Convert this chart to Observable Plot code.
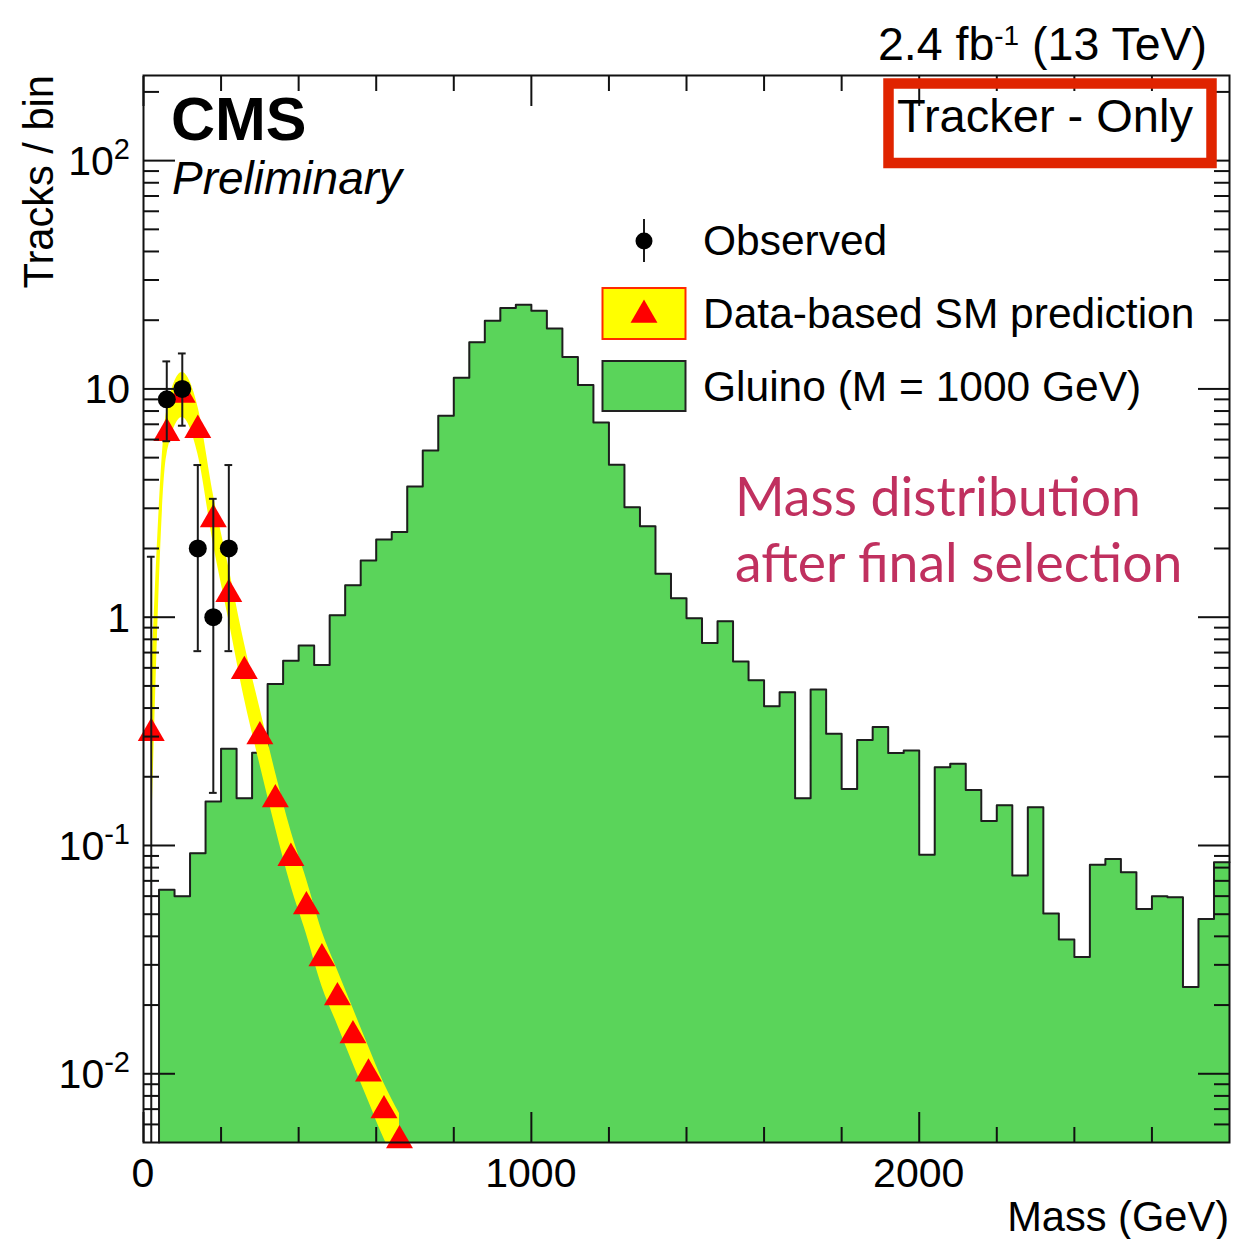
<!DOCTYPE html>
<html><head><meta charset="utf-8">
<script src="https://cdn.jsdelivr.net/npm/d3@7"></script>
<script src="https://cdn.jsdelivr.net/npm/@observablehq/plot@0.6"></script>
<style>html,body{margin:0;padding:0;background:#fff;} svg{display:block;}</style>
</head><body><div id="chart"></div>
<script>
// ---------------- data ----------------
const binWidth = 40; // GeV
// Gluino (M = 1000 GeV) histogram, one value per 40 GeV bin starting at 0 GeV
const gluino = [0, 0.064, 0.060, 0.0925, 0.156, 0.265, 0.161, 0.255, 0.510, 0.644,
  0.751, 0.618, 1.02, 1.38, 1.77, 2.19, 2.36, 3.74, 5.38, 7.62,
  11.2, 16.0, 19.9, 22.6, 23.4, 22.0, 18.4, 13.8, 10.4, 7.12,
  4.65, 3.03, 2.50, 1.55, 1.21, 0.99, 0.77, 0.96, 0.64, 0.53,
  0.407, 0.469, 0.161, 0.482, 0.309, 0.177, 0.290, 0.330, 0.254, 0.261,
  0.091, 0.220, 0.228, 0.175, 0.128, 0.150, 0.0738, 0.147, 0.0504, 0.0387,
  0.0325, 0.0824, 0.0873, 0.0764, 0.0527, 0.060, 0.0593, 0.0240, 0.0477, 0.0844];

// Observed
const obsMass = [20, 60, 100, 140, 180, 220];
const obsCount = [0, 9, 10, 2, 1, 2];
const obsErrLow = [0, 5.9, 6.9, 0.71, 0.17, 0.71];
const obsErrHigh = [1.84, 13.2, 14.3, 4.64, 3.30, 4.64];

// Data-based SM prediction (central value and band)
const predMass = [20, 60, 100, 140, 180, 220, 260, 300, 340, 380, 420, 460, 500, 540, 580, 620, 660];
const predValue = [0.31, 6.4, 9.4, 6.6, 2.68, 1.26, 0.58, 0.30, 0.159, 0.088, 0.054, 0.032, 0.0216, 0.0147, 0.0100, 0.0069, 0.0051];
const predLow = [0.10, 5.1, 7.5, 5.2, 2.1, 0.97, 0.44, 0.227, 0.12, 0.0667, 0.041, 0.0242, 0.0164, 0.0111, 0.0076, 0.0052, 0.0039];
const predHigh = [0.50, 8.0, 11.8, 8.4, 3.45, 1.65, 0.77, 0.40, 0.21, 0.116, 0.0713, 0.0422, 0.0285, 0.0194, 0.0132, 0.0091, 0.0067];

// axes
const xDomain = [0, 2800];
const yDomain = [0.005, 236];
const xMajorTicks = [0, 1000, 2000];
const xMinorTicks = [200, 400, 600, 800, 1200, 1400, 1600, 1800, 2200, 2400, 2600];
const yMajorTicks = [0.01, 0.1, 1, 10, 100];
const yMinorTicks = [0.006, 0.007, 0.008, 0.009,
  0.02, 0.03, 0.04, 0.05, 0.06, 0.07, 0.08, 0.09,
  0.2, 0.3, 0.4, 0.5, 0.6, 0.7, 0.8, 0.9,
  2, 3, 4, 5, 6, 7, 8, 9,
  20, 30, 40, 50, 60, 70, 80, 90, 200];
const yTickBase = ["10", "10", "1", "10", "10"];
const yTickExp = ["-2", "-1", "", "", "2"];
const xTickLabels = ["0", "1000", "2000"];

// ---------------- build ----------------
const W = 1233, H = 1239;
const YMIN = yDomain[0];
const GREEN = "#5ad45a";
const FONT = "'Liberation Sans', Arial, Helvetica, sans-serif";

const gl = gluino.map((v, i) => ({x: i * binWidth, y: v})).filter(d => d.y > 0);
const lastBin = gl[gl.length - 1];
const glSteps = [...gl, {x: lastBin.x + binWidth, y: lastBin.y}];
const glOutline = [{x: gl[0].x, y: YMIN}, ...glSteps];

const pred = predMass.map((m, i) => ({m, v: predValue[i], lo: predLow[i], hi: predHigh[i]}));
const obs = obsMass.map((m, i) => ({m, n: obsCount[i], lo: obsErrLow[i], hi: obsErrHigh[i]}));
const CAP = 10;
const AX = "#111";

const plot = Plot.plot({
  width: W, height: H,
  marginLeft: 143, marginRight: 4, marginTop: 75, marginBottom: 97,
  x: {domain: xDomain},
  y: {type: "log", domain: yDomain},
  style: {fontFamily: FONT, background: "#fff", overflow: "visible"},
  marks: [
    Plot.areaY(glSteps, {x: "x", y1: YMIN, y2: "y", curve: "step-after", fill: GREEN}),
    Plot.line(glOutline, {x: "x", y: "y", curve: "step-after", stroke: "#1e1e1e", strokeWidth: 2}),
    Plot.areaY(pred, {x: "m", y1: "lo", y2: "hi", curve: "monotone-x", fill: "#ffff00", clip: true}),
    Plot.dot(pred, {x: "m", y: "v", symbol: "triangle", r: 10, fill: "#ff0000", stroke: "none"}),
    Plot.ruleX(obs, {x: "m", y1: d => Math.max(d.lo, YMIN), y2: "hi", stroke: "#1a1a1a", strokeWidth: 2}),
    Plot.ruleY(obs, {y: "hi", x1: d => d.m - CAP, x2: d => d.m + CAP, stroke: "#1a1a1a", strokeWidth: 2}),
    Plot.ruleY(obs.filter(d => d.lo > 0), {y: "lo", x1: d => d.m - CAP, x2: d => d.m + CAP, stroke: "#1a1a1a", strokeWidth: 2}),
    Plot.dot(obs.filter(d => d.n > 0), {x: "m", y: "n", r: 9, fill: "#000", stroke: "none"}),
    Plot.frame({stroke: AX, strokeWidth: 2}),
    Plot.axisX(xMinorTicks, {anchor: "bottom", tickSize: -15, fill: "none", stroke: AX, strokeWidth: 2}),
    Plot.axisX(xMajorTicks, {anchor: "bottom", tickSize: -30, fill: "none", stroke: AX, strokeWidth: 2}),
    Plot.axisX(xMinorTicks, {anchor: "top", tickSize: -15, fill: "none", stroke: AX, strokeWidth: 2}),
    Plot.axisX(xMajorTicks, {anchor: "top", tickSize: -30, fill: "none", stroke: AX, strokeWidth: 2}),
    Plot.axisY(yMinorTicks, {anchor: "left", tickSize: -16, fill: "none", stroke: AX, strokeWidth: 2}),
    Plot.axisY(yMajorTicks, {anchor: "left", tickSize: -32, fill: "none", stroke: AX, strokeWidth: 2}),
    Plot.axisY(yMinorTicks, {anchor: "right", tickSize: -16, fill: "none", stroke: AX, strokeWidth: 2}),
    Plot.axisY(yMajorTicks, {anchor: "right", tickSize: -32, fill: "none", stroke: AX, strokeWidth: 2})
  ]
});
document.getElementById("chart").appendChild(plot);

const svg = d3.select(plot);
const xs = plot.scale("x"), ys = plot.scale("y");
function txt(x, y, s, opts = {}) {
  const t = svg.append("text").attr("x", x).attr("y", y)
    .attr("font-family", opts.family || FONT)
    .attr("font-size", opts.size || 42)
    .attr("fill", opts.fill || "#000")
    .attr("text-anchor", opts.anchor || "start");
  if (opts.weight) t.attr("font-weight", opts.weight);
  if (opts.style) t.attr("font-style", opts.style);
  if (opts.transform) t.attr("transform", opts.transform);
  if (s !== null) t.text(s);
  return t;
}

// x tick labels
xMajorTicks.forEach((v, i) => txt(xs.apply(v), 1187, xTickLabels[i], {size: 41, anchor: "middle"}));
// y tick labels
yMajorTicks.forEach((v, i) => {
  const t = txt(130, ys.apply(v) + 15, null, {size: 41, anchor: "end"});
  t.append("tspan").text(yTickBase[i]);
  if (yTickExp[i]) t.append("tspan").attr("font-size", 29).attr("dy", -16).text(yTickExp[i]);
});
// axis titles
txt(1229, 1231, "Mass (GeV)", {size: 41.6, anchor: "end"});
txt(0, 0, "Tracks / bin", {size: 41.6, anchor: "end", transform: "translate(53,75) rotate(-90)"});

// CMS labels
txt(171, 140, "CMS", {size: 61, weight: "bold"});
txt(172, 194, "Preliminary", {size: 46, style: "italic"});

// lumi
const lumi = txt(1207, 60, null, {size: 46.5, anchor: "end"});
lumi.append("tspan").text("2.4 fb");
lumi.append("tspan").attr("font-size", 28).attr("dy", -15).text("-1");
lumi.append("tspan").attr("dy", 15).text(" (13 TeV)");

// Tracker - Only box
svg.append("rect").attr("x", 888.5).attr("y", 83.5).attr("width", 323).attr("height", 79.5)
  .attr("fill", "none").attr("stroke", "#e02400").attr("stroke-width", 10.5);
txt(897, 132, "Tracker - Only", {size: 47});

// legend
const LC = "#1a1a1a";
svg.append("line").attr("x1", 644).attr("x2", 644).attr("y1", 219).attr("y2", 262).attr("stroke", LC).attr("stroke-width", 2);
svg.append("circle").attr("cx", 644).attr("cy", 241).attr("r", 8.5).attr("fill", "#000");
txt(703, 255, "Observed", {size: 42.5});

svg.append("rect").attr("x", 602.5).attr("y", 288).attr("width", 83).attr("height", 51)
  .attr("fill", "#ffff00").attr("stroke", "#ff2a00").attr("stroke-width", 2);
svg.append("path").attr("d", d3.symbol(d3.symbolTriangle, Math.PI * 100)())
  .attr("transform", "translate(644,315)").attr("fill", "#ff0000");
txt(703, 328, "Data-based SM prediction", {size: 42.5});

svg.append("rect").attr("x", 602.5).attr("y", 361).attr("width", 83).attr("height", 50)
  .attr("fill", GREEN).attr("stroke", "#222").attr("stroke-width", 2);
txt(703, 401, "Gluino (M = 1000 GeV)", {size: 42.5});

// annotation
const ANN = "#c0305f";
txt(735, 516, "Mass distribution", {size: 53.5, family: "Lato, 'Open Sans', sans-serif", fill: ANN});
txt(735, 582, "after final selection", {size: 53.5, family: "Lato, 'Open Sans', sans-serif", fill: ANN});
</script>
</body></html>
